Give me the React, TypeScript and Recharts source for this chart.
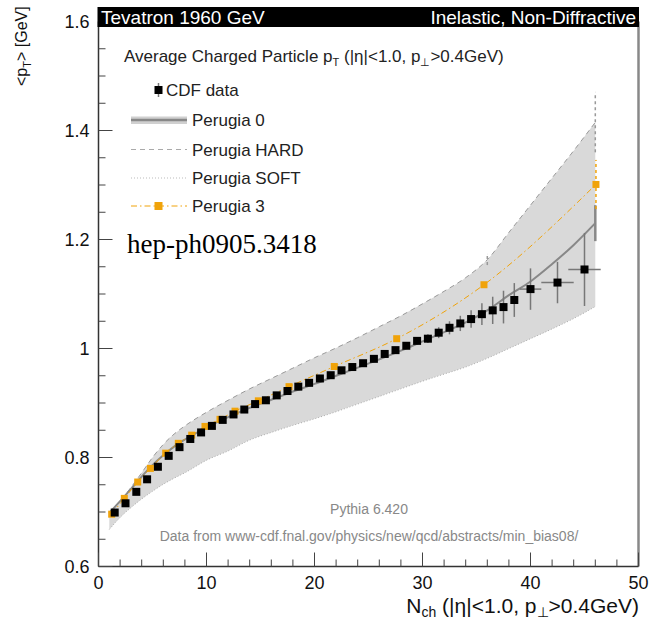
import React from 'react';
import { ComposedChart, Area, Line, Scatter, XAxis, YAxis, ErrorBar, ReferenceLine } from 'recharts';

// CDF data: N_ch bin centres, <pT>, errors
const cdfN = [1.5, 2.5, 3.5, 4.5, 5.5, 6.5, 7.5, 8.5, 9.5, 10.5, 11.5, 12.5, 13.5, 14.5, 15.5, 16.5, 17.5, 18.5, 19.5, 20.5, 21.5, 22.5, 23.5, 24.5, 25.5, 26.5, 27.5, 28.5, 29.5, 30.5, 31.5, 32.5, 33.5, 34.5, 35.5, 36.5, 37.5, 38.5, 40, 42.5, 45];
const cdfPt = [0.699, 0.716, 0.737, 0.76, 0.783, 0.803, 0.819, 0.834, 0.846, 0.858, 0.869, 0.879, 0.888, 0.898, 0.905, 0.914, 0.922, 0.93, 0.937, 0.945, 0.951, 0.96, 0.966, 0.973, 0.981, 0.99, 0.997, 1.005, 1.014, 1.018, 1.029, 1.038, 1.046, 1.054, 1.063, 1.07, 1.076, 1.089, 1.109, 1.121, 1.145];
const cdfErrY = [0.003, 0.003, 0.003, 0.003, 0.003, 0.003, 0.003, 0.003, 0.003, 0.003, 0.003, 0.003, 0.003, 0.003, 0.003, 0.003, 0.003, 0.003, 0.003, 0.003, 0.003, 0.003, 0.003, 0.003, 0.003, 0.003, 0.003, 0.005, 0.006, 0.008, 0.01, 0.012, 0.014, 0.016, 0.02, 0.025, 0.03, 0.031, 0.038, 0.038, 0.067];
const cdfErrX = [0, 0, 0, 0, 0, 0, 0, 0, 0, 0, 0, 0, 0, 0, 0, 0, 0, 0, 0, 0, 0, 0, 0, 0, 0, 0, 0, 0, 0, 0, 0, 0, 0, 0, 0, 0, 0, 0, 1, 1.5, 1.5];

// Pythia tunes
const modelN = [1, 2, 3, 4, 5, 6, 7, 8, 10, 12, 14, 16, 18, 20, 22, 24, 26, 28, 30, 32, 34, 36, 38, 40, 42, 44, 46];
const perugia0 = [0.698, 0.72, 0.742, 0.765, 0.786, 0.804, 0.82, 0.833, 0.855, 0.874, 0.891, 0.906, 0.921, 0.935, 0.95, 0.965, 0.98, 0.996, 1.013, 1.03, 1.048, 1.07, 1.098, 1.123, 1.155, 1.19, 1.23];
const perugiaHard = [0.7, 0.72, 0.745, 0.772, 0.8, 0.824, 0.843, 0.858, 0.883, 0.905, 0.926, 0.945, 0.964, 0.983, 1.001, 1.02, 1.04, 1.06, 1.082, 1.105, 1.13, 1.163, 1.213, 1.263, 1.313, 1.363, 1.415];
const perugiaSoft = [0.668, 0.69, 0.708, 0.724, 0.738, 0.751, 0.762, 0.772, 0.795, 0.812, 0.832, 0.846, 0.859, 0.871, 0.884, 0.898, 0.912, 0.926, 0.94, 0.953, 0.966, 0.982, 1.0, 1.018, 1.036, 1.055, 1.077];
const p0Err = [0, 0, 0, 0, 0, 0, 0, 0, 0, 0, 0, 0, 0, 0, 0, 0, 0, 0, 0, 0, 0, 0, 0, 0, 0, 0, 0.033];
const hardErr = [0, 0, 0, 0, 0, 0, 0, 0, 0, 0, 0, 0, 0, 0, 0, 0, 0, 0, 0, 0, 0, 0.01, 0, 0, 0, 0, 0.055];

const p3N = [1.22, 2.39, 3.63, 4.8, 6.22, 7.39, 8.63, 9.86, 11.25, 12.64, 14.8, 17.64, 21.83, 27.61, 35.69, 46.06];
const p3Pt = [0.696, 0.725, 0.755, 0.78, 0.808, 0.826, 0.841, 0.857, 0.87, 0.885, 0.904, 0.93, 0.967, 1.018, 1.117, 1.301];
const p3Err = [0, 0, 0, 0, 0, 0, 0, 0, 0, 0, 0, 0, 0, 0, 0, 0.045];

const xTicks = [0, 2, 4, 6, 8, 10, 12, 14, 16, 18, 20, 22, 24, 26, 28, 30, 32, 34, 36, 38, 40, 42, 44, 46, 48, 50];
const yTicks = [0.6, 0.65, 0.7, 0.75, 0.8, 0.85, 0.9, 0.95, 1, 1.05, 1.1, 1.15, 1.2, 1.25, 1.3, 1.35, 1.4, 1.45, 1.5, 1.55, 1.6];

const modelRows = modelN.map((n, i) => ({
  n,
  p0: perugia0[i],
  hard: perugiaHard[i],
  soft: perugiaSoft[i],
  band: [perugiaSoft[i], perugiaHard[i]],
  p0e: p0Err[i],
  he: hardErr[i],
}));
const cdfRows = cdfN.map((n, i) => ({ n, v: cdfPt[i], ey: cdfErrY[i], ex: cdfErrX[i] }));
const p3Rows = p3N.map((n, i) => ({ n, v: p3Pt[i], e: p3Err[i] }));

const FONT = '"Liberation Sans", Arial, Helvetica, sans-serif';
const ORANGE = '#f0a30a';

const YTick = (props: any) => {
  const { x, y, payload } = props;
  const c = Math.round(payload.value * 100);
  const major = c % 20 === 0;
  return (
    <g>
      <line x1={x} x2={x + (major ? 14 : 7)} y1={y} y2={y} stroke="#444" />
      {major && (
        <text x={x - 9} y={y + 6} textAnchor="end" fontSize={18} fontFamily={FONT} fill="#111">
          {String(Math.round(payload.value * 10) / 10)}
        </text>
      )}
    </g>
  );
};

const XTick = (props: any) => {
  const { x, y, payload } = props;
  const major = payload.value % 10 === 0;
  return (
    <g>
      <line x1={x} x2={x} y1={y} y2={y - (major ? 14 : 7)} stroke="#444" />
      {major && (
        <text x={x} y={y + 22} textAnchor="middle" fontSize={18} fontFamily={FONT} fill="#111">
          {payload.value}
        </text>
      )}
    </g>
  );
};

const Square = (props: any) => (
  <rect x={props.cx - 4} y={props.cy - 4} width={8} height={8} fill="#000" />
);

const OrangeDot = (props: any) => (
  <rect key={props.index} x={props.cx - 3.5} y={props.cy - 3.5} width={7} height={7} fill={ORANGE} />
);

export default function App() {
  return (
    <div style={{ position: 'absolute', left: 0, top: 0, width: 656, height: 624, background: '#fff' }}>
      <ComposedChart width={656} height={624} data={modelRows} margin={{ top: 21.5, right: 17.5, bottom: 0, left: 0 }}>
        <XAxis
          dataKey="n"
          type="number"
          domain={[0, 50]}
          ticks={xTicks}
          interval={0}
          allowDataOverflow
          height={57.5}
          tickSize={0}
          tickMargin={0}
          tickLine={false}
          axisLine={{ stroke: '#333', strokeWidth: 1.5 }}
          tick={XTick}
        />
        <YAxis
          type="number"
          domain={[0.6, 1.6]}
          ticks={yTicks}
          interval={0}
          allowDataOverflow
          width={98.5}
          tickSize={0}
          tickMargin={0}
          tickLine={false}
          axisLine={{ stroke: '#333', strokeWidth: 1.5 }}
          tick={YTick}
        />
        <ReferenceLine x={50} stroke="#888" strokeWidth={2.5} />
        <Area dataKey="band" type="monotone" fill="#d9d9d9" fillOpacity={1} stroke="none" isAnimationActive={false} />
        <Line dataKey="soft" type="monotone" stroke="#aaa" strokeWidth={1} strokeDasharray="1 2" dot={false} isAnimationActive={false} />
        <Line dataKey="hard" type="monotone" stroke="#999" strokeWidth={1} strokeDasharray="5 4" dot={false} isAnimationActive={false}>
          <ErrorBar dataKey="he" direction="y" width={0} stroke="#999" strokeDasharray="3 3" />
        </Line>
        <Line dataKey="p0" type="monotone" stroke="#888" strokeWidth={2} dot={false} isAnimationActive={false}>
          <ErrorBar dataKey="p0e" direction="y" width={0} stroke="#888" strokeWidth={2.5} />
        </Line>
        <Line
          data={p3Rows}
          dataKey="v"
          type="monotone"
          stroke={ORANGE}
          strokeWidth={1}
          strokeDasharray="6 3 1.5 3"
          dot={OrangeDot}
          isAnimationActive={false}
        >
          <ErrorBar dataKey="e" direction="y" width={0} stroke={ORANGE} strokeDasharray="3 3" />
        </Line>
        <Scatter data={cdfRows} dataKey="v" shape={Square} isAnimationActive={false}>
          <ErrorBar dataKey="ey" direction="y" width={0} stroke="#777" strokeWidth={1.5} />
          <ErrorBar dataKey="ex" direction="x" width={0} stroke="#777" strokeWidth={1.5} />
        </Scatter>
      </ComposedChart>

      <svg width={656} height={624} style={{ position: 'absolute', left: 0, top: 0, pointerEvents: 'none' }} fontFamily={FONT}>
        {/* header bar */}
        <rect x={97.5} y={7} width={541.5} height={20} fill="#000" />
        <text x={101} y={24} fontSize={19} fill="#fff">Tevatron 1960 GeV</text>
        <text x={636} y={24} fontSize={19} fill="#fff" textAnchor="end">Inelastic, Non-Diffractive</text>

        <text x={124} y={62} fontSize={17} fill="#222">
          Average Charged Particle p<tspan dy={4} fontSize={11}>T</tspan>
          <tspan dy={-4}> (|η|&lt;1.0, p</tspan>
          <tspan dy={4} fontSize={11}>⊥</tspan>
          <tspan dy={-4}>&gt;0.4GeV)</tspan>
        </text>

        {/* legend */}
        <line x1={158.5} x2={158.5} y1={83} y2={97} stroke="#777" strokeWidth={1.5} />
        <rect x={154.5} y={86} width={8} height={8} fill="#000" />
        <text x={166} y={96} fontSize={17} fill="#222">CDF data</text>

        <rect x={131} y={116.5} width={56} height={7.5} fill="#d0d0d0" />
        <line x1={131} x2={187} y1={120} y2={120} stroke="#888" strokeWidth={2.5} />
        <text x={192} y={126} fontSize={17} fill="#222">Perugia 0</text>

        <line x1={131} x2={187} y1={149.5} y2={149.5} stroke="#aaa" strokeDasharray="5 4" />
        <text x={192} y={155.5} fontSize={17} fill="#222">Perugia HARD</text>

        <line x1={131} x2={187} y1={178} y2={178} stroke="#bbb" strokeDasharray="1 2" />
        <text x={192} y={184} fontSize={17} fill="#222">Perugia SOFT</text>

        <line x1={131} x2={187} y1={206} y2={206} stroke={ORANGE} strokeDasharray="6 3 1.5 3" />
        <rect x={154.5} y={202} width={8} height={8} fill={ORANGE} />
        <text x={192} y={212} fontSize={17} fill="#222">Perugia 3</text>

        <text x={127} y={253} fontSize={27} fill="#000" fontFamily='"Liberation Serif", "Times New Roman", serif'>hep-ph0905.3418</text>

        <text x={369} y={514} fontSize={14} fill="#888" textAnchor="middle">Pythia 6.420</text>
        <text x={369} y={541} fontSize={14} fill="#888" textAnchor="middle">
          Data from www-cdf.fnal.gov/physics/new/qcd/abstracts/min_bias08/
        </text>

        {/* axis titles */}
        <text transform="translate(27,86) rotate(-90)" fontSize={16} fill="#111">
          &lt;p<tspan dy={4} fontSize={11}>T</tspan>
          <tspan dy={-4}>&gt; [GeV]</tspan>
        </text>
        <text x={639} y={613} fontSize={21} fill="#111" textAnchor="end">
          N<tspan dy={4} fontSize={14}>ch</tspan>
          <tspan dy={-4}> (|η|&lt;1.0, p</tspan>
          <tspan dy={4} fontSize={14}>⊥</tspan>
          <tspan dy={-4}>&gt;0.4GeV)</tspan>
        </text>
      </svg>
    </div>
  );
}
